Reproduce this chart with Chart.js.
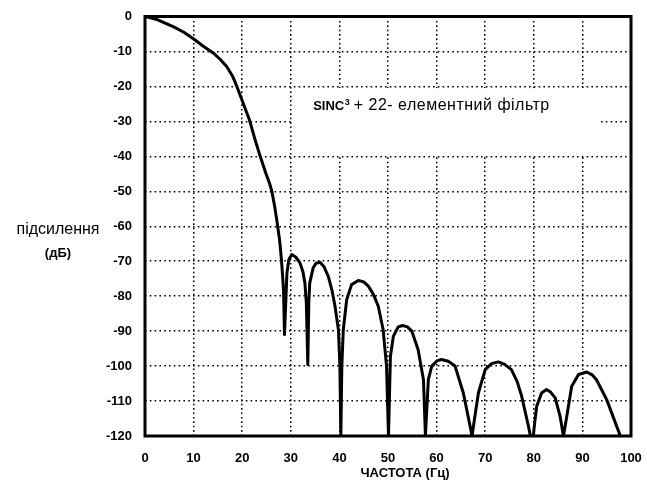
<!DOCTYPE html>
<html>
<head>
<meta charset="utf-8">
<script src="https://cdn.jsdelivr.net/npm/chart.js@4/dist/chart.umd.min.js"></script>
<style>
  html, body { margin: 0; padding: 0; background: #fff; }
  #wrap { width: 647px; height: 482px; }
</style>
</head>
<body>
<div id="wrap"><canvas id="c" width="647" height="482"></canvas></div>
<script>
// Frequency response of a SINC^3 filter followed by a 22-tap filter
const freqHz = [
  0, 2.5, 5.8, 8, 10.1, 12, 14.1, 15.5, 16.8, 18, 18.9, 20.2, 21.5, 22.6, 23.7, 24.9, 25.6, 26.1, 26.7, 27.2, 27.7, 28.1, 28.5, 28.7,
  29.2, 29.6, 30.2, 31, 31.9, 32.5, 32.9, 33.2, 33.5,
  33.7, 33.9, 34.6, 35.2, 36.0, 36.8, 37.7, 38.5, 39.1, 39.8, 40.1, 40.3,
  40.5, 40.8, 41.5, 42.5, 43.9, 45, 46, 47, 48, 49.0, 49.7, 50.1,
  50.5, 51.1, 52.1, 53.0, 54, 54.9, 56.2, 57.3, 57.7,
  58.3, 59.0, 60, 61.0, 62.4, 63.8, 65.5, 66.9, 67.3,
  67.6, 68.6, 70, 71.3, 72.7, 74, 75.4, 76.6, 77.5, 78.9, 79.3, 79.9,
  80.2, 80.6, 81.6, 82.6, 83.5, 84.4, 85.4, 86.1,
  86.8, 87.8, 89.2, 90.9, 92, 92.9, 95, 97.7, 97.8
];
const gainDb = [
  0, -0.9, -2.9, -4.5, -6.5, -8.5, -10.5, -12.3, -14.3, -17, -20, -24.8, -29.6, -35, -40, -45, -47.6, -50, -54.5, -59, -64, -70, -78.1, -91,
  -73.4, -69.5, -68.1, -68.8, -70.5, -73, -76.2, -82, -99.6,
  -82, -76.2, -71.9, -70.6, -70.3, -71.5, -74.3, -78.5, -82.9, -89.6, -100, -120,
  -100, -89.6, -81, -76.7, -75.5, -75.9, -77.2, -79.5, -82.9, -89.6, -100, -120,
  -97.2, -91.5, -88.8, -88.4, -88.8, -90, -95.3, -103.9, -120,
  -103.9, -100, -98.6, -98.1, -98.6, -100, -107.7, -117.2, -120,
  -117, -107.7, -101, -99.3, -98.8, -99.5, -101, -104.5, -108.6, -117.2, -120, -120,
  -116, -111.5, -107.7, -106.7, -107.5, -109.1, -114.3, -120,
  -114.3, -105.8, -102.4, -101.7, -102.5, -103.9, -109.6, -119.6, -120
];
const xTickValues = [0, 10, 20, 30, 40, 50, 60, 70, 80, 90, 100];
const yTickValues = [0, -10, -20, -30, -40, -50, -60, -70, -80, -90, -100, -110, -120];

const FONT = '"Liberation Sans", Arial, Helvetica, sans-serif';

// Dotted grid, heavy frame, caption box and axis titles
const decor = {
  id: 'decor',
  beforeDatasetsDraw(chart) {
    const { ctx, scales: { x, y } } = chart;
    // white caption panel hides the grid behind the filter name
    const x0 = x.getPixelForValue(30.3), x1 = x.getPixelForValue(93.5);
    const y0 = y.getPixelForValue(-20.5), y1 = y.getPixelForValue(-39.6);
    ctx.save();
    ctx.fillStyle = '#fff';
    ctx.fillRect(x0, y0, x1 - x0, y1 - y0);
    // caption text
    const tx = x.getPixelForValue(34.6), ty = y.getPixelForValue(-26.7);
    ctx.fillStyle = '#000';
    ctx.textBaseline = 'alphabetic';
    ctx.textAlign = 'left';
    ctx.font = 'bold 13px ' + FONT;
    ctx.fillText('SINC', tx, ty);
    let cx = tx + ctx.measureText('SINC').width + 0.5;
    ctx.font = 'bold 9px ' + FONT;
    ctx.fillText('3', cx, ty - 5);
    cx += ctx.measureText('3').width + 4;
    ctx.font = '16px ' + FONT;
    if ('letterSpacing' in ctx) ctx.letterSpacing = '0.5px';
    ctx.fillText('+ 22- елементний фільтр', cx, ty);
    ctx.restore();
  },
  afterDatasetsDraw(chart) {
    const { ctx, chartArea: a } = chart;
    ctx.save();
    ctx.strokeStyle = '#000';
    ctx.lineWidth = 3;
    ctx.strokeRect(a.left, a.top, a.right - a.left, a.bottom - a.top);
    ctx.restore();
  },
  afterDraw(chart) {
    const { ctx, scales: { x } } = chart;
    ctx.save();
    ctx.fillStyle = '#000';
    ctx.textAlign = 'center';
    ctx.textBaseline = 'middle';
    ctx.font = '16px ' + FONT;
    ctx.fillText('підсилення', 58, 230);
    ctx.font = 'bold 13px ' + FONT;
    ctx.fillText('(дБ)', 58, 253);
    ctx.fillText('ЧАСТОТА (Гц)', x.getPixelForValue(53.5), 473);
    ctx.restore();
  }
};

new Chart(document.getElementById('c'), {
  type: 'line',
  data: {
    datasets: [{
      data: freqHz.map((f, i) => ({ x: f, y: gainDb[i] })),
      borderColor: '#000',
      borderWidth: 3,
      borderJoinStyle: 'round',
      borderCapStyle: 'round',
      pointRadius: 0,
      tension: 0,
      fill: false
    }]
  },
  options: {
    responsive: false,
    animation: false,
    devicePixelRatio: 1,
    layout: { padding: { top: 16.5, right: 16, left: 0, bottom: 0 } },
    plugins: { legend: { display: false }, tooltip: { enabled: false }, title: { display: false } },
    scales: {
      x: {
        type: 'linear',
        min: 0, max: 100,
        afterBuildTicks(s) { s.ticks = xTickValues.map(v => ({ value: v })); },
        afterFit(s) { s.height = 46; s.paddingLeft = 0; s.paddingRight = 0; },
        grid: { color: '#000', lineWidth: 1.5, drawTicks: false },
        border: { display: false, dash: [1.6, 2.8] },
        ticks: {
          color: '#000', padding: 15, maxRotation: 0,
          font: { family: FONT, size: 13, weight: 'bold' },
          callback: v => String(v)
        }
      },
      y: {
        type: 'linear',
        min: -120, max: 0,
        afterBuildTicks(s) { s.ticks = yTickValues.map(v => ({ value: v })); },
        afterFit(s) { s.width = 145; s.paddingTop = 0; s.paddingBottom = 0; },
        grid: { color: '#000', lineWidth: 1.5, drawTicks: false },
        border: { display: false, dash: [1.6, 3.2] },
        ticks: {
          color: '#000', padding: 13,
          font: { family: FONT, size: 13, weight: 'bold' },
          callback: v => String(v)
        }
      }
    }
  },
  plugins: [decor]
});
</script>
</body>
</html>
